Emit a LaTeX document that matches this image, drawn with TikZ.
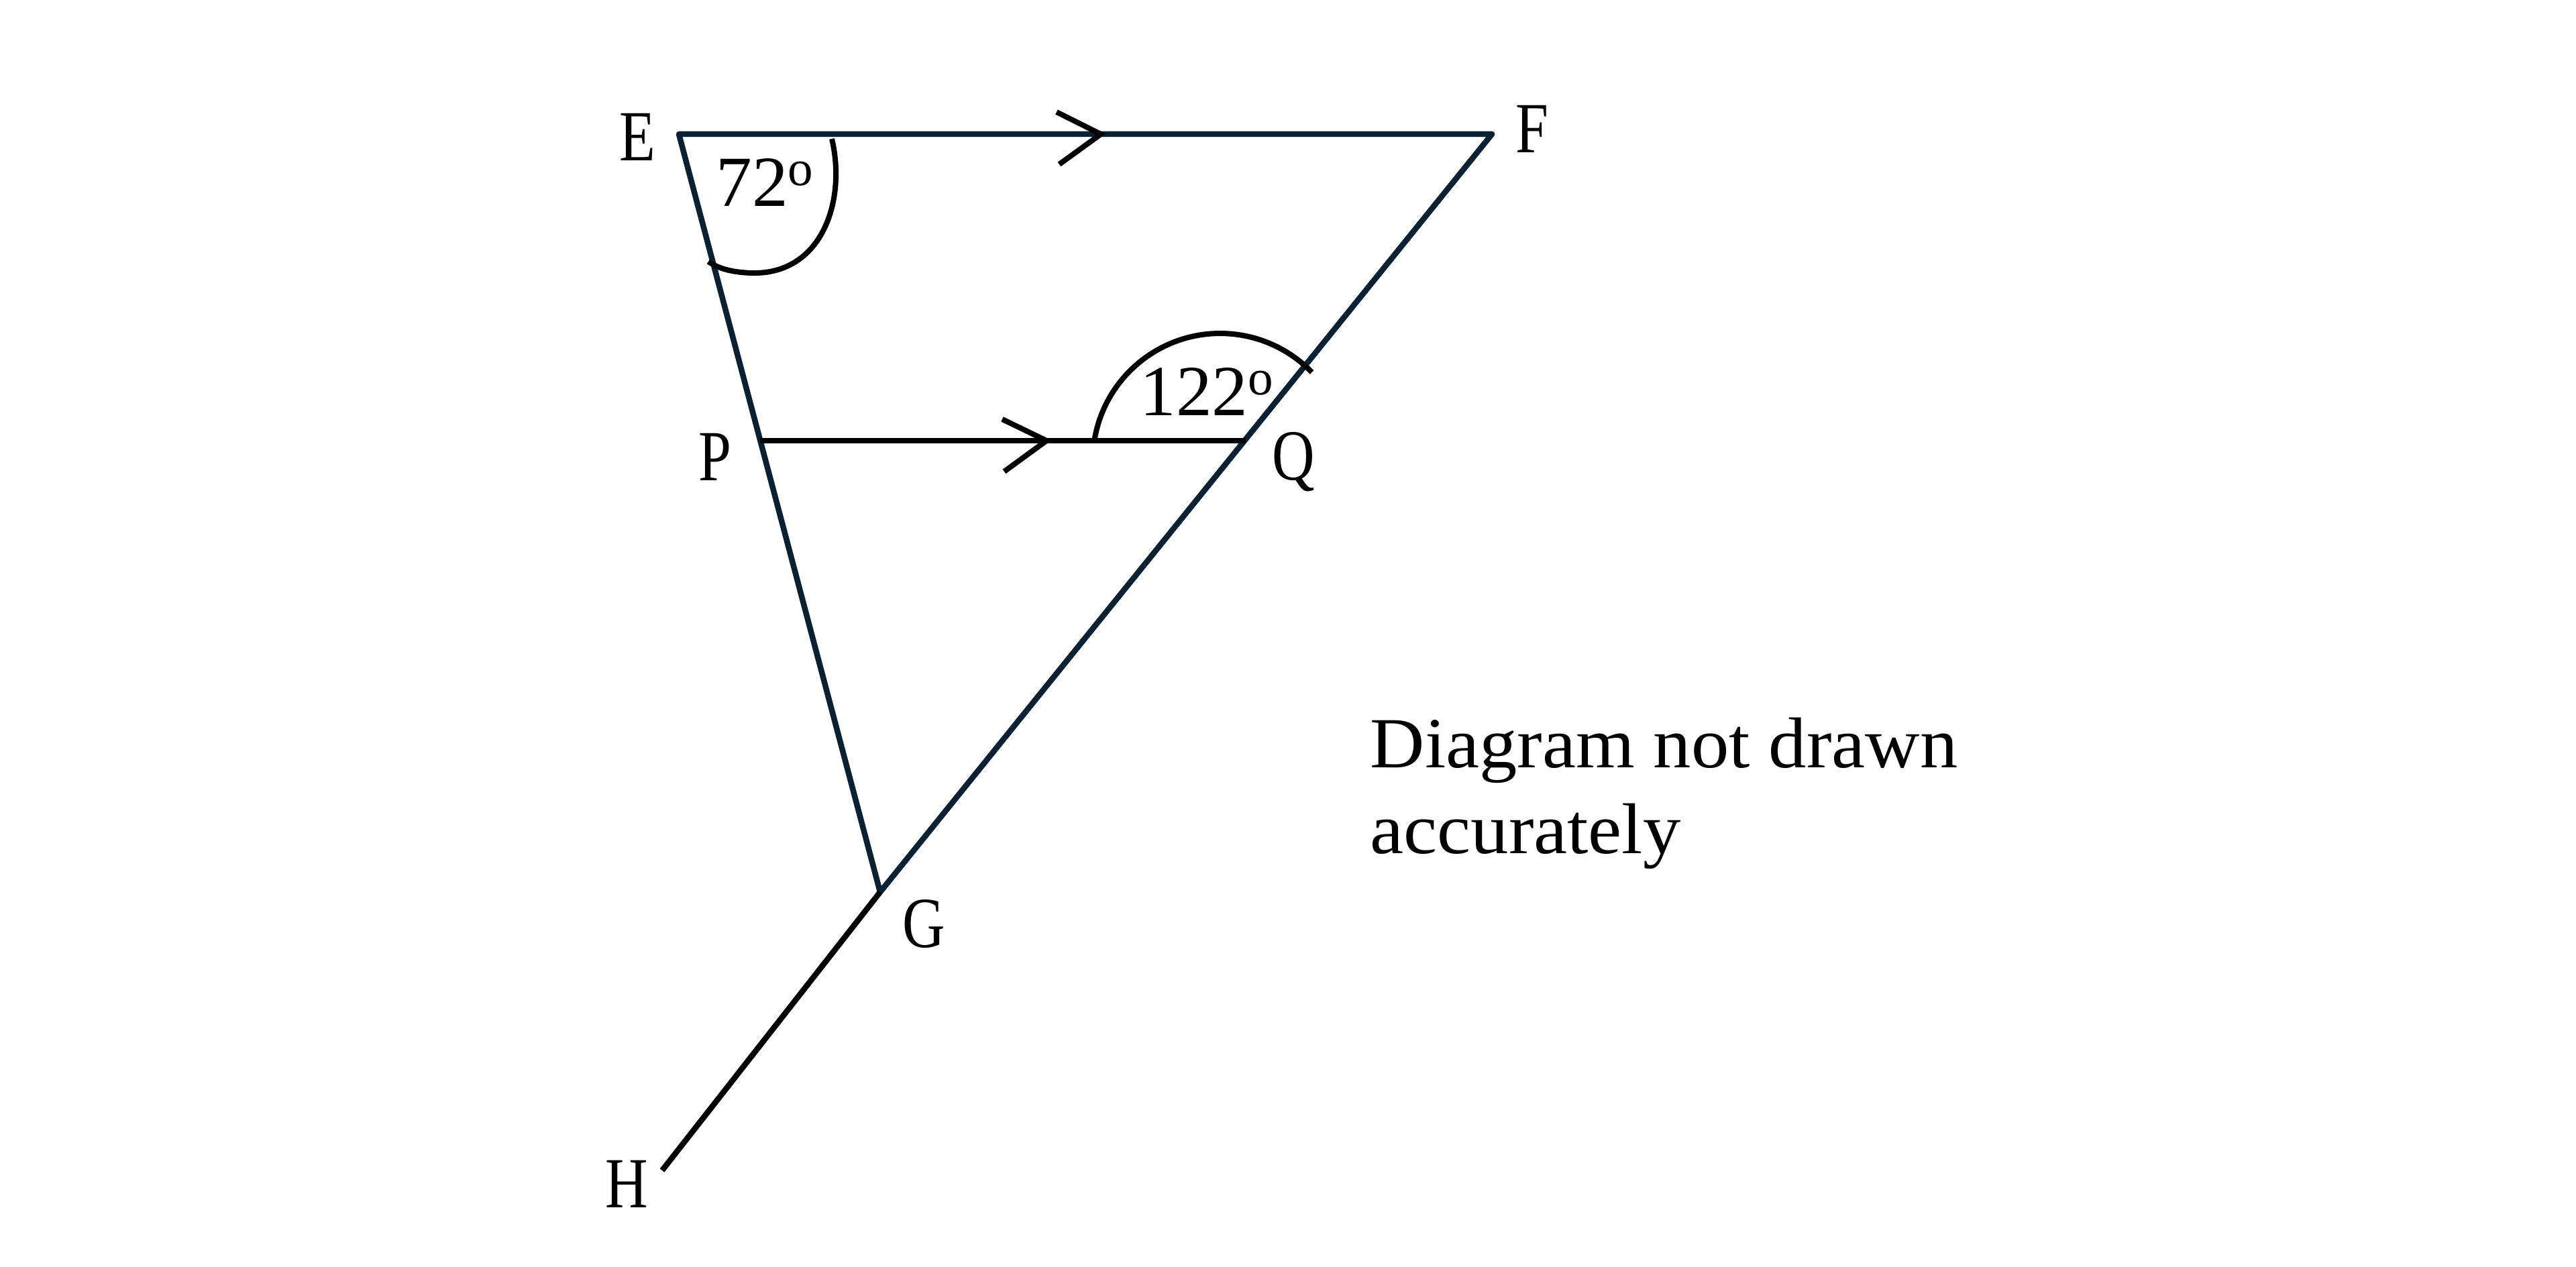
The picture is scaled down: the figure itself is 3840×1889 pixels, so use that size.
\documentclass[tikz,border=0pt]{standalone}
\usepackage{fontspec}
\setmainfont{Liberation Serif}
\newfontfamily\lblfont[FakeStretch=0.82]{Liberation Serif}
\newfontfamily\notefont[FakeStretch=1.05]{Liberation Serif}
\definecolor{navy}{RGB}{8,34,51}
\begin{document}
\begin{tikzpicture}[x=0.01cm,y=-0.01cm,
  side/.style={draw=navy,line width=0.085cm,line join=round,line cap=round},
  seg/.style={draw=black,line width=0.085cm},
  chev/.style={draw=black,line width=0.08cm,line join=miter},
  angarc/.style={draw=black,line width=0.08cm},
  lbl/.style={inner sep=0pt,anchor=base,font=\fontsize{30.5}{36}\lblfont},
  deg/.style={inner sep=0pt,anchor=base west,font=\fontsize{30.5}{36}\selectfont},
  note/.style={inner sep=0pt,anchor=base west,font=\fontsize{30.5}{36}\notefont}]
\fill[white] (0,0) rectangle (3840,1889);
\useasboundingbox (0,0) rectangle (3840,1889);
% vertices
\coordinate (E) at (1012,200);
\coordinate (F) at (2224,200);
\coordinate (G) at (1312,1330);
\coordinate (H) at (987,1745);
\coordinate (P) at (1133,657);
\coordinate (Q) at (1857,657);
% sides
\draw[side] (E) -- (F) -- (G) -- cycle;
\draw[seg] (P) -- (Q);
\draw[seg] (G) -- (H);
% parallel marks
\coordinate (t1) at (1641,200);
\coordinate (t2) at (1560,657);
\draw[chev] (t1) ++(-66,-33) -- (t1) -- ++(-62,45);
\draw[chev] (t2) ++(-66,-32) -- (t2) -- ++(-63,46);
% angle arcs
\draw[angarc] (1240,207) .. controls (1262,300) and (1225,410) .. (1120,407)
  .. controls (1090,406) and (1070,400) .. (1056,390);
\draw[angarc] (1631,659) arc[start angle=-171.5,end angle=-44,radius=190];
% labels
\node[lbl] (lE) at (950,240) {E};
\node[lbl] (lF) at (2284,228) {F};
\node[lbl] (lP) at (1066,717) {P};
\node[lbl] (lQ) at (1928,716) {Q};
\node[lbl] (lG) at (1377,1412) {G};
\node[lbl] (lH) at (934,1800) {H};
\node[deg] (d72) at (1067,308) {72\textsuperscript{o}};
\node[deg] (d122) at (1699,620) {122\textsuperscript{o}};
\node[note] (n1) at (2042,1144) {Diagram not drawn};
\node[note] (n2) at (2042,1272) {accurately};
\end{tikzpicture}
\end{document}
